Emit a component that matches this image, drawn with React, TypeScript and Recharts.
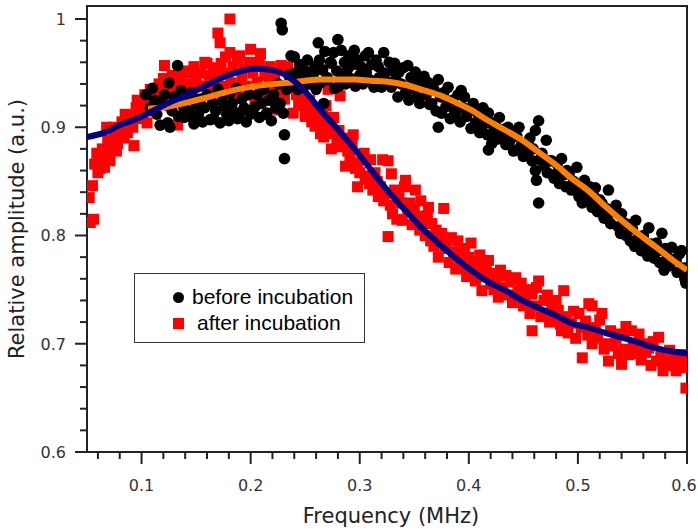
import { ComposedChart, Scatter, XAxis, YAxis, ReferenceArea, Legend } from 'recharts';

// tick positions (minor every 0.02, majors get a label)
const xTicks = [0.06, 0.08, 0.1, 0.12, 0.14, 0.16, 0.18, 0.2, 0.22, 0.24, 0.26, 0.28, 0.3, 0.32, 0.34, 0.36, 0.38, 0.4, 0.42, 0.44, 0.46, 0.48, 0.5, 0.52, 0.54, 0.56, 0.58, 0.6];
const yTicks = [0.6, 0.62, 0.64, 0.66, 0.68, 0.7, 0.72, 0.74, 0.76, 0.78, 0.8, 0.82, 0.84, 0.86, 0.88, 0.9, 0.92, 0.94, 0.96, 0.98, 1.0];

// before incubation (black circles), [MHz, amplitude]
const beforePoints: [number, number][] = [
  [0.104, 0.930], [0.108, 0.918], [0.110, 0.936], [0.112, 0.925], [0.114, 0.912], [0.117, 0.902], [0.119, 0.921], [0.121, 0.930], [0.124, 0.904], [0.125, 0.941],
  [0.126, 0.900], [0.128, 0.915], [0.130, 0.928], [0.133, 0.957], [0.134, 0.910], [0.136, 0.934], [0.138, 0.920], [0.139, 0.909], [0.141, 0.926], [0.143, 0.915],
  [0.144, 0.910], [0.146, 0.932], [0.148, 0.903], [0.150, 0.921], [0.152, 0.912], [0.154, 0.926], [0.156, 0.905], [0.158, 0.918], [0.160, 0.930], [0.163, 0.907],
  [0.165, 0.922], [0.166, 0.908], [0.168, 0.915], [0.170, 0.935], [0.172, 0.904], [0.174, 0.924], [0.176, 0.919], [0.178, 0.912], [0.180, 0.906], [0.181, 0.931],
  [0.183, 0.922], [0.185, 0.914], [0.187, 0.936], [0.188, 0.908], [0.190, 0.913], [0.192, 0.926], [0.194, 0.918], [0.196, 0.905], [0.198, 0.930], [0.200, 0.912],
  [0.202, 0.916], [0.204, 0.919], [0.206, 0.930], [0.208, 0.909], [0.210, 0.922], [0.212, 0.935], [0.214, 0.912], [0.215, 0.913], [0.217, 0.925], [0.219, 0.906],
  [0.221, 0.930], [0.223, 0.918], [0.225, 0.940], [0.227, 0.922], [0.228, 0.996], [0.229, 0.990], [0.230, 0.913], [0.231, 0.893], [0.231, 0.871],
  [0.233, 0.935], [0.235, 0.948], [0.237, 0.966], [0.238, 0.940], [0.240, 0.965], [0.241, 0.950], [0.243, 0.935], [0.245, 0.958], [0.246, 0.945], [0.248, 0.937],
  [0.250, 0.952], [0.252, 0.962], [0.254, 0.940], [0.256, 0.948], [0.258, 0.950], [0.259, 0.956], [0.260, 0.935],
  [0.262, 0.978], [0.263, 0.962], [0.264, 0.941], [0.266, 0.953], [0.267, 0.922], [0.268, 0.970], [0.270, 0.946], [0.271, 0.944], [0.273, 0.960], [0.274, 0.959],
  [0.276, 0.969], [0.277, 0.936], [0.279, 0.952], [0.280, 0.981], [0.281, 0.938], [0.283, 0.971], [0.284, 0.947], [0.286, 0.960], [0.287, 0.940], [0.289, 0.954],
  [0.290, 0.966], [0.292, 0.945], [0.294, 0.958], [0.295, 0.971], [0.296, 0.938], [0.298, 0.962], [0.300, 0.948], [0.301, 0.956], [0.303, 0.940], [0.305, 0.966],
  [0.306, 0.951], [0.308, 0.969], [0.309, 0.944], [0.311, 0.958], [0.313, 0.937], [0.315, 0.962], [0.317, 0.956], [0.318, 0.946], [0.320, 0.937], [0.322, 0.969],
  [0.323, 0.950], [0.325, 0.942], [0.327, 0.960], [0.329, 0.937], [0.330, 0.952], [0.332, 0.959], [0.333, 0.944], [0.335, 0.928], [0.336, 0.951],
  [0.338, 0.940], [0.340, 0.955], [0.342, 0.932], [0.344, 0.957], [0.345, 0.925], [0.347, 0.946], [0.349, 0.936], [0.351, 0.951], [0.352, 0.928], [0.354, 0.944],
  [0.355, 0.922], [0.357, 0.938], [0.359, 0.947], [0.361, 0.930], [0.363, 0.941], [0.364, 0.921], [0.366, 0.922], [0.368, 0.935], [0.370, 0.915], [0.372, 0.944],
  [0.372, 0.900], [0.374, 0.928], [0.375, 0.913], [0.377, 0.932], [0.379, 0.919], [0.381, 0.937], [0.383, 0.908], [0.385, 0.925], [0.387, 0.915], [0.388, 0.913],
  [0.390, 0.930], [0.392, 0.905], [0.393, 0.934], [0.395, 0.918], [0.396, 0.928], [0.398, 0.910], [0.400, 0.916], [0.402, 0.899], [0.404, 0.922], [0.406, 0.904],
  [0.408, 0.913], [0.410, 0.895], [0.412, 0.900], [0.413, 0.918], [0.415, 0.909], [0.417, 0.893], [0.418, 0.879], [0.418, 0.913],
  [0.420, 0.904], [0.421, 0.885], [0.423, 0.897], [0.424, 0.904], [0.426, 0.889], [0.428, 0.909], [0.430, 0.891], [0.432, 0.898], [0.434, 0.884], [0.436, 0.900],
  [0.438, 0.888], [0.440, 0.894], [0.441, 0.878], [0.443, 0.879], [0.444, 0.892], [0.446, 0.900], [0.448, 0.883], [0.450, 0.873], [0.452, 0.885], [0.454, 0.876],
  [0.456, 0.890], [0.458, 0.869], [0.459, 0.880], [0.461, 0.897], [0.461, 0.860], [0.462, 0.851], [0.464, 0.906], [0.464, 0.830], [0.465, 0.870], [0.467, 0.876],
  [0.469, 0.864], [0.471, 0.888], [0.472, 0.858], [0.474, 0.869], [0.476, 0.869], [0.478, 0.853], [0.480, 0.857], [0.481, 0.866], [0.483, 0.848], [0.485, 0.871],
  [0.487, 0.856], [0.489, 0.845], [0.490, 0.860], [0.492, 0.857], [0.494, 0.842], [0.496, 0.850], [0.498, 0.848], [0.499, 0.863], [0.501, 0.836], [0.503, 0.845],
  [0.504, 0.839], [0.504, 0.830], [0.506, 0.851], [0.507, 0.840], [0.509, 0.832],
  [0.511, 0.845], [0.513, 0.826], [0.515, 0.836], [0.516, 0.844], [0.518, 0.822], [0.520, 0.833], [0.522, 0.830], [0.524, 0.816], [0.526, 0.825], [0.528, 0.842],
  [0.528, 0.820], [0.530, 0.811], [0.532, 0.822], [0.535, 0.828], [0.537, 0.808], [0.539, 0.802], [0.540, 0.820], [0.542, 0.812], [0.544, 0.800], [0.546, 0.810],
  [0.548, 0.795], [0.550, 0.806], [0.552, 0.790], [0.553, 0.814], [0.555, 0.797], [0.556, 0.798], [0.558, 0.786], [0.560, 0.800], [0.562, 0.790], [0.564, 0.781],
  [0.565, 0.807], [0.567, 0.792], [0.569, 0.784], [0.570, 0.779], [0.572, 0.793], [0.574, 0.786], [0.575, 0.775], [0.577, 0.802], [0.579, 0.768], [0.580, 0.788],
  [0.582, 0.780], [0.584, 0.772], [0.586, 0.789], [0.588, 0.778], [0.590, 0.777], [0.591, 0.766], [0.593, 0.783], [0.595, 0.786], [0.596, 0.770], [0.598, 0.760],
  [0.599, 0.770], [0.599, 0.756],
];

// after incubation (red squares)
const afterPoints: [number, number][] = [
  [0.052, 0.835], [0.053, 0.812], [0.055, 0.846], [0.056, 0.815], [0.057, 0.866], [0.059, 0.876], [0.060, 0.858], [0.061, 0.871], [0.062, 0.862], [0.064, 0.880],
  [0.066, 0.863], [0.067, 0.872], [0.068, 0.900], [0.069, 0.888], [0.071, 0.869], [0.072, 0.880], [0.074, 0.900], [0.075, 0.891], [0.077, 0.878], [0.078, 0.885],
  [0.080, 0.898], [0.082, 0.905], [0.084, 0.890], [0.085, 0.912], [0.087, 0.895], [0.089, 0.905], [0.090, 0.911], [0.092, 0.900], [0.093, 0.883], [0.095, 0.918],
  [0.096, 0.925], [0.098, 0.908], [0.099, 0.922],
  [0.101, 0.912], [0.103, 0.930], [0.105, 0.904], [0.106, 0.920], [0.108, 0.935], [0.110, 0.915], [0.112, 0.928], [0.114, 0.931], [0.116, 0.940], [0.118, 0.922],
  [0.120, 0.945], [0.121, 0.957], [0.123, 0.930], [0.124, 0.937], [0.126, 0.920], [0.128, 0.948], [0.130, 0.935], [0.131, 0.925], [0.133, 0.902], [0.134, 0.944],
  [0.136, 0.950], [0.138, 0.930], [0.139, 0.919], [0.141, 0.940], [0.143, 0.952], [0.144, 0.950], [0.146, 0.935], [0.148, 0.956], [0.150, 0.942], [0.152, 0.925],
  [0.154, 0.950], [0.156, 0.938], [0.158, 0.960], [0.160, 0.959], [0.160, 0.938],
  [0.162, 0.948], [0.164, 0.930], [0.166, 0.955], [0.168, 0.942], [0.170, 0.987], [0.171, 0.950], [0.172, 0.978], [0.173, 0.959], [0.175, 0.938], [0.177, 0.965],
  [0.179, 0.950], [0.181, 1.000], [0.181, 0.969], [0.182, 0.941], [0.184, 0.956], [0.186, 0.930], [0.188, 0.962], [0.190, 0.966], [0.190, 0.929], [0.192, 0.945],
  [0.194, 0.955], [0.196, 0.938], [0.197, 0.931], [0.199, 0.960], [0.200, 0.972], [0.202, 0.950], [0.204, 0.926], [0.206, 0.942], [0.208, 0.958], [0.209, 0.968],
  [0.211, 0.935], [0.213, 0.948], [0.215, 0.925], [0.217, 0.940], [0.218, 0.956], [0.220, 0.930], [0.222, 0.945], [0.224, 0.920], [0.225, 0.917], [0.226, 0.916],
  [0.228, 0.957], [0.228, 0.938], [0.230, 0.930],
  [0.231, 0.926], [0.234, 0.956], [0.236, 0.940], [0.237, 0.941], [0.239, 0.913], [0.240, 0.950], [0.242, 0.930], [0.244, 0.920], [0.246, 0.926], [0.248, 0.935],
  [0.250, 0.910], [0.252, 0.919], [0.254, 0.925], [0.256, 0.905], [0.258, 0.912], [0.259, 0.901], [0.261, 0.918], [0.263, 0.902], [0.264, 0.894], [0.266, 0.910],
  [0.267, 0.891], [0.269, 0.920], [0.271, 0.935], [0.272, 0.900], [0.274, 0.907], [0.274, 0.880], [0.276, 0.909], [0.277, 0.894], [0.279, 0.885], [0.281, 0.897],
  [0.282, 0.929], [0.283, 0.882], [0.285, 0.890], [0.287, 0.864], [0.289, 0.878], [0.291, 0.872], [0.293, 0.885], [0.294, 0.893], [0.296, 0.862], [0.298, 0.867],
  [0.298, 0.845], [0.300, 0.858], [0.302, 0.870], [0.304, 0.876], [0.305, 0.852], [0.307, 0.855], [0.309, 0.848], [0.310, 0.870], [0.312, 0.842], [0.314, 0.858],
  [0.316, 0.850], [0.317, 0.836], [0.319, 0.845], [0.321, 0.870], [0.322, 0.832], [0.324, 0.839], [0.326, 0.869], [0.326, 0.799], [0.328, 0.828],
  [0.329, 0.857], [0.330, 0.820], [0.332, 0.842], [0.334, 0.815], [0.336, 0.835], [0.338, 0.830], [0.339, 0.814], [0.341, 0.845], [0.342, 0.851], [0.344, 0.822],
  [0.346, 0.830], [0.348, 0.810], [0.350, 0.826], [0.351, 0.842], [0.353, 0.818], [0.355, 0.805], [0.356, 0.832], [0.358, 0.812], [0.360, 0.800], [0.362, 0.818],
  [0.363, 0.826], [0.365, 0.795], [0.366, 0.811], [0.368, 0.790], [0.370, 0.805], [0.372, 0.780], [0.374, 0.798], [0.375, 0.802], [0.377, 0.825], [0.378, 0.788],
  [0.380, 0.795], [0.382, 0.775], [0.384, 0.798], [0.386, 0.785], [0.388, 0.769], [0.390, 0.795], [0.392, 0.778], [0.394, 0.770], [0.396, 0.788], [0.398, 0.762],
  [0.400, 0.780], [0.402, 0.793], [0.402, 0.765], [0.404, 0.775], [0.406, 0.758], [0.408, 0.770], [0.410, 0.782], [0.412, 0.777], [0.412, 0.749], [0.414, 0.762],
  [0.416, 0.770],
  [0.418, 0.777], [0.420, 0.755], [0.421, 0.765], [0.423, 0.750], [0.425, 0.760], [0.427, 0.743], [0.429, 0.768], [0.431, 0.752], [0.434, 0.763], [0.436, 0.745],
  [0.438, 0.757], [0.440, 0.738], [0.443, 0.761], [0.445, 0.748], [0.448, 0.756], [0.450, 0.735], [0.452, 0.740], [0.454, 0.750], [0.456, 0.728], [0.458, 0.746],
  [0.458, 0.712], [0.460, 0.735], [0.462, 0.752], [0.464, 0.758], [0.466, 0.725], [0.469, 0.740], [0.470, 0.728], [0.472, 0.745], [0.474, 0.720], [0.476, 0.735],
  [0.478, 0.722], [0.480, 0.740], [0.482, 0.731], [0.484, 0.718], [0.485, 0.712], [0.487, 0.749], [0.489, 0.725], [0.491, 0.710], [0.494, 0.719], [0.496, 0.730],
  [0.498, 0.705], [0.501, 0.728], [0.503, 0.715], [0.504, 0.687], [0.507, 0.721], [0.509, 0.708], [0.510, 0.737],
  [0.513, 0.735], [0.513, 0.700], [0.516, 0.715], [0.518, 0.705], [0.520, 0.722], [0.522, 0.728], [0.524, 0.695], [0.526, 0.700], [0.528, 0.684], [0.530, 0.712],
  [0.532, 0.698], [0.535, 0.705], [0.537, 0.691], [0.540, 0.709], [0.540, 0.681], [0.542, 0.695], [0.544, 0.716], [0.547, 0.690], [0.549, 0.712], [0.551, 0.698],
  [0.553, 0.691], [0.556, 0.709], [0.558, 0.685], [0.560, 0.700], [0.562, 0.692], [0.565, 0.696], [0.567, 0.680], [0.569, 0.702], [0.572, 0.684], [0.574, 0.706],
  [0.576, 0.690], [0.578, 0.675], [0.581, 0.684], [0.584, 0.694], [0.586, 0.680], [0.588, 0.690], [0.590, 0.675], [0.593, 0.687], [0.595, 0.678], [0.597, 0.690],
  [0.599, 0.659], [0.599, 0.682],
];

// fitted curves
const beforeFit: [number, number][] = [
  [0.106, 0.917], [0.124, 0.919], [0.142, 0.923], [0.158, 0.927], [0.172, 0.931], [0.188, 0.935], [0.204, 0.938], [0.220, 0.940], [0.234, 0.941],
  [0.250, 0.943], [0.264, 0.944], [0.280, 0.944], [0.296, 0.944], [0.310, 0.943], [0.326, 0.942], [0.342, 0.939], [0.356, 0.935], [0.372, 0.930],
  [0.388, 0.923], [0.402, 0.916], [0.418, 0.906], [0.434, 0.897], [0.449, 0.888], [0.464, 0.877], [0.480, 0.865], [0.494, 0.853], [0.510, 0.841],
  [0.525, 0.827], [0.540, 0.814], [0.556, 0.801], [0.572, 0.789], [0.586, 0.778], [0.600, 0.768],
];
const afterFit: [number, number][] = [
  [0.050, 0.891], [0.066, 0.895], [0.080, 0.902], [0.096, 0.908], [0.112, 0.916], [0.126, 0.923], [0.142, 0.930], [0.158, 0.938], [0.172, 0.945],
  [0.188, 0.951], [0.204, 0.954], [0.218, 0.953], [0.234, 0.947], [0.250, 0.933], [0.264, 0.916], [0.280, 0.898], [0.296, 0.879], [0.310, 0.861],
  [0.326, 0.841], [0.342, 0.823], [0.356, 0.808], [0.372, 0.793], [0.388, 0.779], [0.402, 0.768], [0.418, 0.757], [0.434, 0.749], [0.449, 0.740],
  [0.464, 0.733], [0.480, 0.726], [0.494, 0.719], [0.510, 0.715], [0.525, 0.710], [0.540, 0.706], [0.556, 0.701], [0.572, 0.696], [0.586, 0.693],
  [0.600, 0.691],
];

const toXY = (pts: [number, number][]) => pts.map(([x, y]) => ({ x, y }));

const AXIS = '#222';
const AXIS_FONT = '"DejaVu Sans", Verdana, sans-serif';

const isMajor = (v: number) => Math.abs(v * 10 - Math.round(v * 10)) < 1e-6;
const fmt = (v: number) => String(Math.round(v * 10) / 10);

function XTick({ x, y, payload }: any) {
  const major = isMajor(payload.value);
  // last label sits on the right edge, nudge it in a little
  const lx = payload.value >= 0.6 ? x - 3 : x;
  return (
    <g>
      <line x1={x} x2={x} y1={y} y2={y + (major ? 12 : 7)} stroke={AXIS} strokeWidth={2} />
      {major && (
        <text x={lx} y={y + 39} textAnchor="middle" fontFamily={AXIS_FONT} fontSize={16} fill="#333">
          {fmt(payload.value)}
        </text>
      )}
    </g>
  );
}

function YTick({ x, y, payload }: any) {
  const major = isMajor(payload.value);
  return (
    <g>
      <line x1={x - (major ? 12 : 7)} x2={x} y1={y} y2={y} stroke={AXIS} strokeWidth={2} />
      {major && (
        <text x={x - 21} y={y + 6} textAnchor="end" fontFamily={AXIS_FONT} fontSize={16} fill="#333">
          {fmt(payload.value)}
        </text>
      )}
    </g>
  );
}

const Circle = (p: any) => <circle cx={p.cx} cy={p.cy} r={5.8} fill="#000" />;
const Square = (p: any) => <rect x={p.cx - 5.5} y={p.cy - 5.5} width={11} height={11} fill="#ff0000" />;
const NoMark = () => <g />;

function LegendBox() {
  const text = { position: 'absolute' as const, fontFamily: '"Liberation Sans", Arial, sans-serif', fontSize: 21, lineHeight: '24px', color: '#000', whiteSpace: 'nowrap' as const };
  return (
    <div style={{ position: 'relative', width: 231, height: 70, border: '1.5px solid #333', boxSizing: 'border-box', background: '#fff' }}>
      <div style={{ position: 'absolute', left: 38, top: 18, width: 11, height: 11, borderRadius: '50%', background: '#000' }} />
      <span style={{ ...text, left: 57, top: 11 }}>before incubation</span>
      <div style={{ position: 'absolute', left: 38, top: 44, width: 11, height: 11, background: '#ff0000' }} />
      <span style={{ ...text, left: 62, top: 37 }}>after incubation</span>
    </div>
  );
}

export default function App() {
  return (
    <div style={{ position: 'absolute', left: 0, top: 0, width: 698, height: 531, background: '#fff' }}>
      <ComposedChart width={698} height={531} margin={{ top: 6, right: 11, bottom: 0, left: 0 }}>
        <XAxis
          type="number"
          dataKey="x"
          domain={[0.05, 0.6]}
          allowDataOverflow
          ticks={xTicks}
          interval={0}
          height={79}
          tickSize={0}
          tickMargin={0}
          tick={<XTick />}
          axisLine={{ stroke: AXIS, strokeWidth: 2 }}
          label={{ value: 'Frequency (MHz)', position: 'insideBottom', offset: 8, dx: 4, fontFamily: AXIS_FONT, fontSize: 21, fill: '#222' }}
        />
        <YAxis
          type="number"
          dataKey="y"
          domain={[0.6, 1.012]}
          allowDataOverflow
          ticks={yTicks}
          interval={0}
          width={87}
          tickSize={0}
          tickMargin={0}
          tick={<YTick />}
          axisLine={{ stroke: AXIS, strokeWidth: 2 }}
          label={{ value: 'Relative amplitude (a.u.)', angle: -90, position: 'insideLeft', offset: 17, fontFamily: AXIS_FONT, fontSize: 21, fill: '#222', style: { textAnchor: 'middle' } }}
        />
        <ReferenceArea x1={0.05} x2={0.6} y1={0.6} y2={1.012} fill="none" stroke={AXIS} strokeWidth={2} />
        <Scatter name="after incubation" data={toXY(afterPoints)} shape={Square} isAnimationActive={false} />
        <Scatter name="before incubation" data={toXY(beforePoints)} shape={Circle} isAnimationActive={false} />
        {/* fits drawn as scatter lines so they stay on top of the markers */}
        <Scatter
          name="before fit"
          data={toXY(beforeFit)}
          shape={NoMark}
          line={{ stroke: '#ff8000', strokeWidth: 6, fill: 'none' }}
          lineJointType="monotoneX"
          isAnimationActive={false}
        />
        <Scatter
          name="after fit"
          data={toXY(afterFit)}
          shape={NoMark}
          line={{ stroke: '#000080', strokeWidth: 6, fill: 'none' }}
          lineJointType="monotoneX"
          isAnimationActive={false}
        />
        <Legend
          layout="vertical"
          align="center"
          verticalAlign="middle"
          content={() => <LegendBox />}
          wrapperStyle={{ left: 134, top: 273, width: 231, height: 70 }}
        />
      </ComposedChart>
    </div>
  );
}
